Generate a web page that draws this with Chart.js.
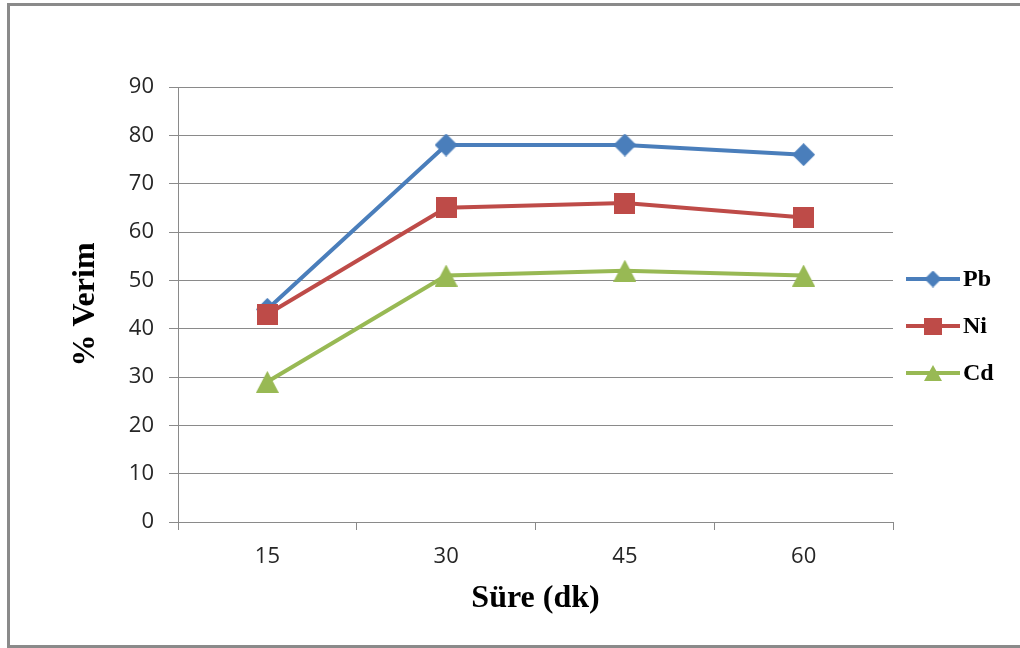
<!DOCTYPE html>
<html>
<head>
<meta charset="utf-8">
<script src="https://cdn.jsdelivr.net/npm/chart.js@4.4.1/dist/chart.umd.min.js"></script>
<style>
  html, body { margin: 0; padding: 0; background: #fff; overflow: hidden; }
  #wrap { position: relative; width: 1020px; height: 648px; overflow: hidden; }
  #frame { position: absolute; left: 7px; top: 3px; width: 1100px; height: 639px; border: 3px solid #8a8a8a; box-sizing: content-box; }
  #c { position: absolute; left: 0; top: 0; }
</style>
</head>
<body>
<div id="wrap">
  <div id="frame"></div>
  <canvas id="c" width="1020" height="648"></canvas>
</div>
<script>
// ---- data ----
const categories = ['15', '30', '45', '60'];
const pbValues = [44, 78, 78, 76];
const niValues = [43, 65, 66, 63];
const cdValues = [29, 51, 52, 51];
const seriesNames = ['Pb', 'Ni', 'Cd'];
const yTitle = '% Verim';
const xTitle = 'Süre (dk)';

const COLORS = ['#4A7EBB', '#BE4B48', '#98B954'];
const SHAPES = ['diamond', 'square', 'triangle'];

function markerCanvas(shape, color, w, h) {
  const cv = document.createElement('canvas');
  cv.width = w; cv.height = h;
  const g = cv.getContext('2d');
  g.fillStyle = color;
  g.beginPath();
  if (shape === 'diamond') {
    g.moveTo(w / 2, 0); g.lineTo(w, h / 2); g.lineTo(w / 2, h); g.lineTo(0, h / 2);
  } else if (shape === 'square') {
    g.rect(0, 0, w, h);
  } else {
    g.moveTo(w / 2, 0); g.lineTo(w, h); g.lineTo(0, h);
  }
  g.closePath();
  g.fill();
  return cv;
}

const markerSizes = { diamond: [23, 23], square: [21, 21], triangle: [23, 22] };
const legendSizes = { diamond: [17, 17], square: [18, 17], triangle: [18, 16] };

const values = [pbValues, niValues, cdValues];
const datasets = seriesNames.map((name, i) => ({
  label: name,
  data: values[i],
  borderColor: COLORS[i],
  backgroundColor: COLORS[i],
  borderWidth: 4,
  pointStyle: markerCanvas(SHAPES[i], COLORS[i], ...markerSizes[SHAPES[i]]),
  pointRadius: 11,
  pointHoverRadius: 11,
  tension: 0,
  fill: false,
  order: 3 - i
}));

const legendPlugin = {
  id: 'excelLegend',
  afterDraw(chart) {
    const ctx = chart.ctx;
    const ca = chart.chartArea;
    const x0 = ca.right + 13;
    const y0 = 279;
    const step = 47;
    ctx.save();
    seriesNames.forEach((name, i) => {
      const y = y0 + i * step;
      ctx.strokeStyle = COLORS[i];
      ctx.lineWidth = 4;
      ctx.beginPath();
      ctx.moveTo(x0, y);
      ctx.lineTo(x0 + 54, y);
      ctx.stroke();
      const [w, h] = legendSizes[SHAPES[i]];
      ctx.drawImage(markerCanvas(SHAPES[i], COLORS[i], w, h), x0 + 27 - w / 2, y - h / 2);
      ctx.fillStyle = '#000';
      ctx.font = 'bold 24px "Liberation Serif", "Times New Roman", serif';
      ctx.textBaseline = 'middle';
      ctx.textAlign = 'left';
      ctx.fillText(name, x0 + 57, y + 1);
    });
    ctx.restore();
  }
};

const gridColor = '#8a8a8a';
const tickFont = { family: '"Open Sans", "DejaVu Sans", sans-serif', size: 22 };
const titleFont = { family: '"Liberation Serif", "Times New Roman", serif', size: 32, weight: 'bold' };

new Chart(document.getElementById('c'), {
  type: 'line',
  data: { labels: categories, datasets },
  options: {
    responsive: false,
    animation: false,
    events: [],
    layout: { padding: { left: 0, top: 87, right: 127, bottom: 0 } },
    plugins: { legend: { display: false }, tooltip: { enabled: false } },
    scales: {
      x: {
        type: 'category',
        offset: true,
        grid: { offset: true, drawOnChartArea: false, drawTicks: true, tickLength: 8, color: gridColor, lineWidth: 1 },
        border: { color: gridColor, width: 1 },
        ticks: { font: tickFont, color: '#262626', padding: 14, maxRotation: 0 },
        title: { display: true, text: xTitle, font: titleFont, color: '#000', padding: { top: 0, bottom: 30 } },
        afterFit(s) { s.height = 126; }
      },
      y: {
        min: 0, max: 90,
        ticks: { stepSize: 10, font: tickFont, color: '#262626', padding: 15 },
        grid: { color: gridColor, lineWidth: 1, tickLength: 9, drawTicks: true },
        border: { color: gridColor, width: 1 },
        title: { display: true, text: yTitle, font: titleFont, color: '#000', padding: { top: 67, bottom: 0 } },
        afterFit(s) { s.width = 178; }
      }
    }
  },
  plugins: [legendPlugin]
});
</script>
</body>
</html>
